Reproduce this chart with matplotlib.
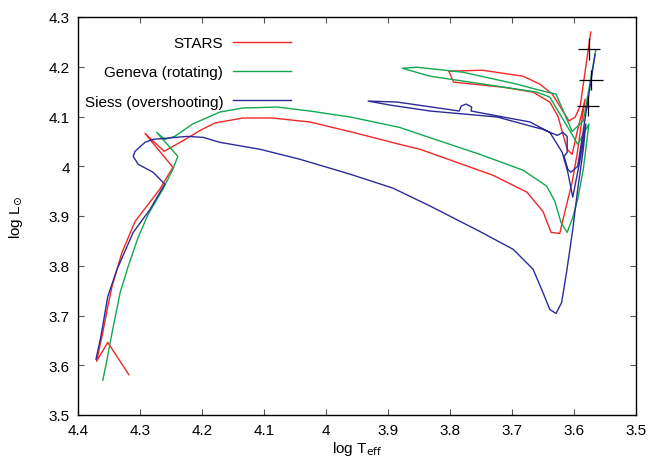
# Diagrama HR: comparación de trazas evolutivas (STARS, Geneva, Siess)
import matplotlib
matplotlib.use('Agg')
import matplotlib.pyplot as plt
from matplotlib.ticker import FuncFormatter

plt.rcParams['font.family'] = ['Liberation Sans', 'DejaVu Sans']
plt.rcParams['font.size'] = 11

# ---- DATOS (log Teff, log L) ----
stars_logt = [4.318, 4.352, 4.370, 4.360, 4.352, 4.345, 4.329, 4.308, 4.268, 4.247,
              4.292, 4.261, 4.227, 4.203, 4.179, 4.134, 4.087, 4.026, 3.956, 3.881,
              3.848, 3.731, 3.676, 3.650, 3.637, 3.623, 3.615, 3.603, 3.595, 3.587,
              3.582, 3.594, 3.603, 3.611, 3.626, 3.639, 3.666, 3.715, 3.794, 3.802,
              3.748, 3.682, 3.655, 3.635, 3.608, 3.598, 3.590, 3.573]
stars_logl = [3.581, 3.646, 3.608, 3.666, 3.718, 3.759, 3.827, 3.889, 3.954, 3.998,
              4.066, 4.030, 4.054, 4.072, 4.087, 4.097, 4.097, 4.089, 4.068, 4.044,
              4.034, 3.982, 3.948, 3.909, 3.867, 3.865, 3.907, 3.968, 4.024, 4.095,
              4.135, 4.074, 4.024, 4.034, 4.101, 4.129, 4.149, 4.159, 4.169, 4.191,
              4.193, 4.181, 4.165, 4.145, 4.091, 4.099, 4.121, 4.270]

geneva_logt = [4.360, 4.354, 4.345, 4.332, 4.319, 4.303, 4.287, 4.263, 4.247, 4.239,
               4.273, 4.260, 4.244, 4.215, 4.171, 4.134, 4.079, 4.026, 3.961, 3.881,
               3.848, 3.752, 3.682, 3.644, 3.631, 3.621, 3.611, 3.602, 3.594, 3.585,
               3.579, 3.576, 3.594, 3.606, 3.639, 3.660, 3.724, 3.832, 3.877, 3.853,
               3.779, 3.692, 3.650, 3.629, 3.603, 3.585, 3.565]
geneva_logl = [3.570, 3.606, 3.666, 3.746, 3.799, 3.857, 3.903, 3.954, 3.994, 4.020,
               4.068, 4.054, 4.060, 4.085, 4.109, 4.117, 4.119, 4.111, 4.099, 4.078,
               4.064, 4.024, 3.992, 3.960, 3.930, 3.887, 3.867, 3.897, 3.934, 3.994,
               4.054, 4.085, 4.044, 4.070, 4.139, 4.149, 4.161, 4.181, 4.197, 4.199,
               4.189, 4.165, 4.151, 4.145, 4.070, 4.091, 4.233]

siess_logt = [4.371, 4.363, 4.352, 4.337, 4.311, 4.284, 4.263, 4.260, 4.279, 4.303,
              4.311, 4.308, 4.292, 4.279, 4.224, 4.198, 4.171, 4.106, 4.042, 3.961,
              3.892, 3.832, 3.752, 3.698, 3.666, 3.650, 3.639, 3.629, 3.620, 3.612,
              3.602, 3.594, 3.585, 3.581, 3.590, 3.602, 3.610, 3.619, 3.639, 3.671,
              3.766, 3.765, 3.774, 3.782, 3.785, 3.885, 3.932, 3.897, 3.832, 3.724,
              3.650, 3.627, 3.618, 3.611, 3.611, 3.616, 3.610, 3.605, 3.594, 3.566]
siess_logl = [3.612, 3.658, 3.738, 3.793, 3.867, 3.913, 3.958, 3.964, 3.988, 4.004,
              4.020, 4.030, 4.048, 4.054, 4.060, 4.058, 4.048, 4.034, 4.014, 3.984,
              3.956, 3.920, 3.869, 3.833, 3.793, 3.746, 3.712, 3.704, 3.726, 3.787,
              3.873, 3.954, 4.034, 4.085, 4.014, 3.938, 3.988, 4.028, 4.068, 4.089,
              4.111, 4.119, 4.125, 4.121, 4.111, 4.129, 4.131, 4.123, 4.111, 4.099,
              4.074, 4.062, 4.068, 4.060, 4.028, 4.020, 3.994, 3.988, 4.000, 4.225]

# Observaciones con barras de error
obs_logt = [3.576, 3.573, 3.577]
obs_logl = [4.235, 4.173, 4.121]
obs_xerr = [0.018, 0.019, 0.018]
obs_yerr = [0.022, 0.020, 0.020]

# ---- GRÁFICO ----
fig = plt.figure(figsize=(6.6, 4.6), dpi=100)
ax = fig.add_axes([78 / 660, 44 / 460, 558 / 660, 398 / 460])

ax.plot(stars_logt, stars_logl, color='#f02828', lw=1.0, label='STARS')
ax.plot(geneva_logt, geneva_logl, color='#10a850', lw=1.0, label='Geneva (rotating)')
ax.plot(siess_logt, siess_logl, color='#2c2c98', lw=1.0, label='Siess (overshooting)')
ax.errorbar(obs_logt, obs_logl, xerr=obs_xerr, yerr=obs_yerr, fmt='none',
            ecolor='black', elinewidth=0.9, capsize=0, zorder=5)

ax.set_xlim(4.4, 3.5)
ax.set_ylim(3.5, 4.3)
ax.set_xticks([4.4, 4.3, 4.2, 4.1, 4.0, 3.9, 3.8, 3.7, 3.6, 3.5])
ax.set_yticks([3.5, 3.6, 3.7, 3.8, 3.9, 4.0, 4.1, 4.2, 4.3])
fmt = FuncFormatter(lambda v, p: '%g' % round(v, 2))
ax.xaxis.set_major_formatter(fmt)
ax.yaxis.set_major_formatter(fmt)
ax.tick_params(direction='in', length=4, width=0.8, top=True, right=True,
               color='#555555')
ax.tick_params(axis='x', pad=6)
ax.tick_params(axis='y', pad=6)
for s in ax.spines.values():
    s.set_linewidth(1.0)

ax.set_xlabel(r'log T$_{\mathrm{eff}}$', labelpad=1)
ax.set_ylabel(r'log L$_{\odot}$', labelpad=17)

ax.legend(loc='upper right', bbox_to_anchor=(0.382, 0.952), frameon=False,
          markerfirst=False, handlelength=3.8, handletextpad=0.65,
          labelspacing=1.0, borderpad=0, borderaxespad=0)

plt.savefig('out.png', dpi=100)
